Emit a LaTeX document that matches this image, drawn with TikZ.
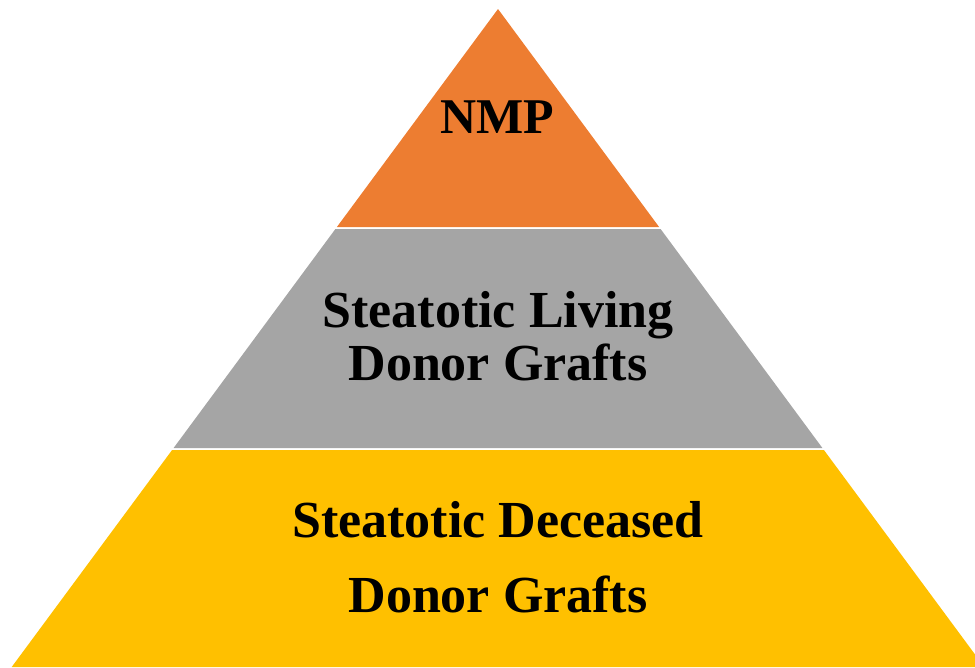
\documentclass[tikz,border=0pt]{standalone}
\usepackage{fontspec}
\setmainfont{Liberation Serif}
\definecolor{tierorange}{HTML}{ED7D31}
\definecolor{tiergray}{HTML}{A5A5A5}
\definecolor{tiergold}{HTML}{FFC000}
\tikzset{
  tierlabel/.style={anchor=base, inner sep=0pt, font=\bfseries\fontsize{52}{52}\selectfont, text=black},
  toplabel/.style={tierlabel, font=\bfseries\fontsize{50}{50}\selectfont}
}
\begin{document}
\begin{tikzpicture}[x=1pt,y=-1pt]
  \useasboundingbox (0,0) rectangle (975,667);
  \clip (0,0) rectangle (975,667);
  % top tier
  \fill[tierorange] (498,9) -- (659.1,227) -- (336.9,227) -- cycle;
  % middle tier
  \fill[tiergray] (335.4,229) -- (660.6,229) -- (822.4,448) -- (173.6,448) -- cycle;
  % bottom tier
  \fill[tiergold] (172.1,450) -- (823.9,450) -- (984.3,667) -- (11.7,667) -- cycle;
  % labels
  \node[toplabel] (nmp) at (497,133) {NMP};
  \node[tierlabel] (living1) at (498,327) {Steatotic Living};
  \node[tierlabel] (living2) at (498,380) {Donor Grafts};
  \node[tierlabel] (deceased1) at (498,537) {Steatotic Deceased};
  \node[tierlabel] (deceased2) at (498,612) {Donor Grafts};
\end{tikzpicture}
\end{document}
